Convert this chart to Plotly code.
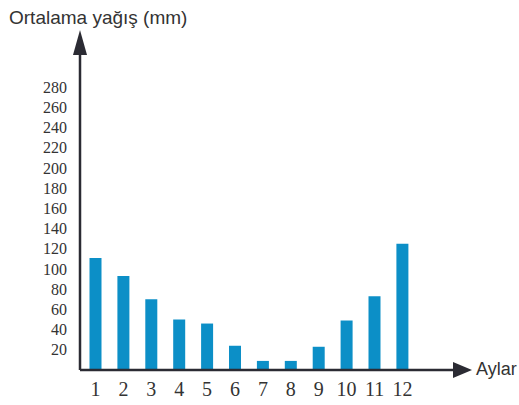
import plotly.graph_objects as go

months = ["1", "2", "3", "4", "5", "6", "7", "8", "9", "10", "11", "12"]
rainfall = [111, 93, 70, 50, 46, 24, 9, 9, 23, 49, 73, 125]
ytick_vals = [20, 40, 60, 80, 100, 120, 140, 160, 180, 200, 220, 240, 260, 280]
title_text = "Ortalama yağış (mm)"
xlabel_text = "Aylar"

W, H = 519, 405
L, R, T, B = 80, 47, 30, 35
pw, ph = W - L - R, H - T - B

def px(x):
    return (x - L) / pw

def py(y):
    return (H - B - y) / ph

xpos = list(range(1, len(months) + 1))
axis_col = "#2b2b33"

fig = go.Figure()
fig.add_trace(go.Bar(x=xpos, y=rainfall, width=0.43, marker=dict(color="#0c8fc7", line=dict(width=0)),
                     hoverinfo="skip"))

shapes = [
    dict(type="line", xref="paper", yref="paper", x0=0, x1=px(456), y0=0, y1=0,
         line=dict(color=axis_col, width=2.5)),
    dict(type="line", xref="paper", yref="paper", x0=0, x1=0, y0=0, y1=py(52),
         line=dict(color=axis_col, width=2.5)),
    dict(type="path", xref="paper", yref="paper",
         path=f"M {px(453)} {py(362)} L {px(472)} {py(370)} L {px(453)} {py(378)} Z",
         fillcolor=axis_col, line=dict(width=0)),
    dict(type="path", xref="paper", yref="paper",
         path=f"M {px(73)} {py(55)} L {px(80)} {py(30)} L {px(87)} {py(55)} Z",
         fillcolor=axis_col, line=dict(width=0)),
]

fig.update_layout(
    width=W, height=H,
    margin=dict(l=L, r=R, t=T, b=B, pad=0, autoexpand=False),
    paper_bgcolor="white", plot_bgcolor="white",
    showlegend=False,
    shapes=shapes,
    xaxis=dict(range=[1 + (L - 95.5) / 27.9, 1 + (W - R - 95.5) / 27.9], automargin=False,
               tickvals=xpos, ticktext=months, showgrid=False, zeroline=False, showline=False,
               ticks="", ticklabelstandoff=5,
               tickfont=dict(family="Liberation Serif", size=20, color="#333333")),
    yaxis=dict(range=[0, (H - B - T) / 1.01], tickvals=ytick_vals, showgrid=False, zeroline=False,
               showline=False, ticks="", ticklabelstandoff=12, automargin=False,
               tickfont=dict(family="Liberation Serif", size=16, color="#333333")),
    annotations=[
        dict(text=title_text, xref="paper", yref="paper", x=px(7), y=py(18), xanchor="left",
             yanchor="middle", showarrow=False,
             font=dict(family="Liberation Sans", size=19, color="#333333")),
        dict(text=xlabel_text, xref="paper", yref="paper", x=px(474), y=py(369), xanchor="left",
             yanchor="middle", showarrow=False,
             font=dict(family="Liberation Sans", size=18, color="#333333")),
    ],
)

fig.write_html("out.html", config={"displayModeBar": False},
               post_script="document.body.style.margin='0';document.body.style.overflow='hidden';")
